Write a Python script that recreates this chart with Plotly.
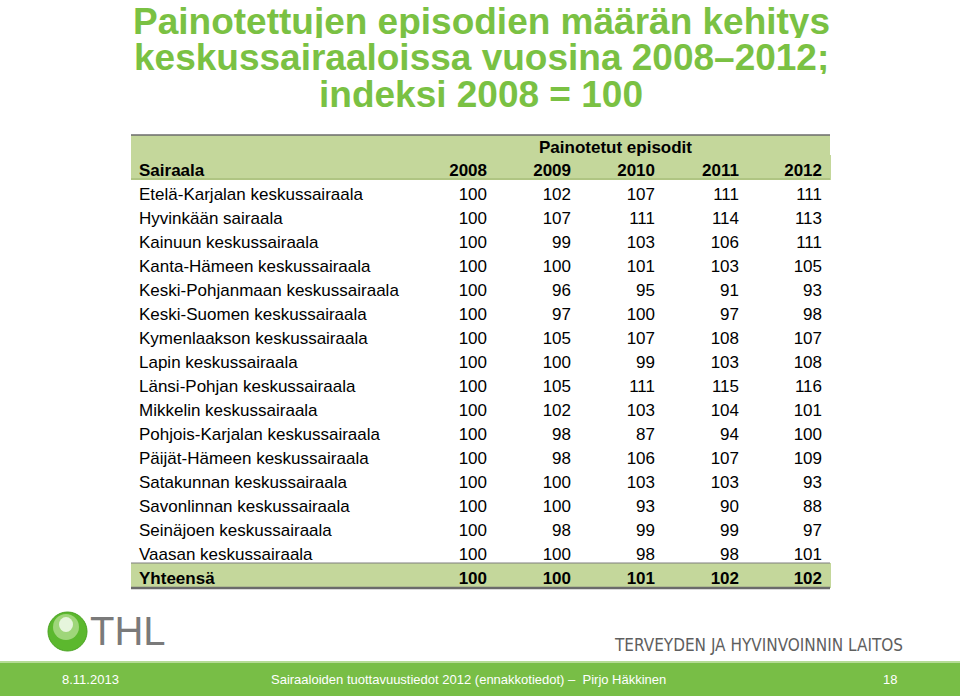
import plotly.graph_objects as go

W, H = 960, 696

hospitals = [
    "Etelä-Karjalan keskussairaala",
    "Hyvinkään sairaala",
    "Kainuun keskussairaala",
    "Kanta-Hämeen keskussairaala",
    "Keski-Pohjanmaan keskussairaala",
    "Keski-Suomen keskussairaala",
    "Kymenlaakson keskussairaala",
    "Lapin keskussairaala",
    "Länsi-Pohjan keskussairaala",
    "Mikkelin keskussairaala",
    "Pohjois-Karjalan keskussairaala",
    "Päijät-Hämeen keskussairaala",
    "Satakunnan keskussairaala",
    "Savonlinnan keskussairaala",
    "Seinäjoen keskussairaala",
    "Vaasan keskussairaala",
]
years = ["2008", "2009", "2010", "2011", "2012"]
v2008 = [100] * 16
v2009 = [102, 107, 99, 100, 96, 97, 105, 100, 105, 102, 98, 98, 100, 100, 98, 100]
v2010 = [107, 111, 103, 101, 95, 100, 107, 99, 111, 103, 87, 106, 103, 93, 99, 98]
v2011 = [111, 114, 106, 103, 91, 97, 108, 103, 115, 104, 94, 107, 103, 90, 99, 98]
v2012 = [111, 113, 111, 105, 93, 98, 107, 108, 116, 101, 100, 109, 93, 88, 97, 101]
total_label = "Yhteensä"
total = [100, 100, 101, 102, 102]
group_label = "Painotetut episodit"

GREEN_FILL = "#c4d79b"
TITLE_GREEN = "#7ac143"
BAR_GREEN = "#78be46"
FONT = "Liberation Sans, Arial"

# table geometry in pixels
tx0 = 131
col_w = [280, 84, 84, 84, 84, 83]
tx1 = tx0 + sum(col_w)
band_top = 135      # top of the "Painotetut episodit" band
ty_top = 155        # top of the table header row
row_h = 24
body_bot = ty_top + row_h + len(hospitals) * row_h
ty_bot = body_bot + row_h + 1
ALIGN = ["left"] + ["right"] * 5


def py(p):
    # pixel row -> paper y
    return 1 - p / H


# non-breaking spaces keep plotly from wrapping the longer names
names = [h.replace(" ", "\u00a0") for h in hospitals]
cols = [names] + [[str(v) for v in s] for s in [v2008, v2009, v2010, v2011, v2012]]

fig = go.Figure()
# main table: "Sairaala" header row + hospital rows
fig.add_trace(go.Table(
    domain=dict(x=[tx0 / W, tx1 / W], y=[py(body_bot + 1), py(ty_top)]),
    columnwidth=col_w,
    header=dict(
        values=["Sairaala"] + years,
        align=ALIGN,
        fill_color=GREEN_FILL,
        line_color=GREEN_FILL,
        font=dict(family=FONT, size=17, color="black", weight="bold"),
        height=row_h,
    ),
    cells=dict(
        values=cols,
        align=ALIGN,
        fill_color="white",
        line_color="white",
        font=dict(family=FONT, size=17, color="black"),
        height=row_h,
    ),
))
# total row as its own one-row table
fig.add_trace(go.Table(
    domain=dict(x=[tx0 / W, tx1 / W], y=[py(ty_bot + 1), py(body_bot)]),
    columnwidth=col_w,
    header=dict(
        values=[total_label] + [str(t) for t in total],
        align=ALIGN,
        fill_color=GREEN_FILL,
        line_color=GREEN_FILL,
        font=dict(family=FONT, size=17, color="black", weight="bold"),
        height=row_h + 1,
    ),
    cells=dict(values=[], height=row_h),
))

shapes = [
    # green band above the header row
    dict(type="rect", x0=tx0 / W, x1=tx1 / W, y0=py(ty_top + 1), y1=py(band_top),
         fillcolor=GREEN_FILL, line=dict(width=0)),
    # table rules
    dict(type="line", x0=tx0 / W, x1=tx1 / W, y0=py(band_top), y1=py(band_top),
         line=dict(color="#6b6b6b", width=1.5)),
    dict(type="line", x0=tx0 / W, x1=tx1 / W, y0=py(ty_top + row_h), y1=py(ty_top + row_h),
         line=dict(color="#9bb36a", width=1)),
    dict(type="line", x0=tx0 / W, x1=tx1 / W, y0=py(body_bot), y1=py(body_bot),
         line=dict(color="#7f7f7f", width=1)),
    dict(type="line", x0=tx0 / W, x1=tx1 / W, y0=py(ty_bot), y1=py(ty_bot),
         line=dict(color="#6b6b6b", width=2.5)),
    # footer bar
    dict(type="rect", x0=0, x1=1, y0=0, y1=py(663),
         fillcolor=BAR_GREEN, line=dict(width=0), layer="below"),
    dict(type="line", x0=0, x1=1, y0=py(662), y1=py(662),
         line=dict(color="#b5dc95", width=2)),
    # THL logo sphere
    dict(type="circle", x0=48 / W, x1=87 / W, y0=py(651), y1=py(612),
         fillcolor="#5cb82e", line=dict(color="#4aa322", width=1)),
    dict(type="circle", x0=53 / W, x1=79 / W, y0=py(640), y1=py(614),
         fillcolor="#9fd67a", line=dict(width=0)),
    dict(type="circle", x0=59 / W, x1=73 / W, y0=py(632), y1=py(617),
         fillcolor="#e6f5dc", line=dict(width=0)),
]
for s in shapes:
    s.update(xref="paper", yref="paper")

title_lines = [
    ("Painotettujen episodien määrän kehitys", 21),
    ("keskussairaaloissa vuosina 2008–2012;", 57),
    ("indeksi 2008 = 100", 94),
]
annotations = [
    dict(text=t, x=481 / W, y=py(yc), xanchor="center", yanchor="middle", height=34,
         font=dict(family=FONT, size=37, color=TITLE_GREEN, weight="bold"))
    for t, yc in title_lines
]
annotations += [
    dict(text=group_label, x=615 / W, y=py(147), xanchor="center", yanchor="middle",
         font=dict(family=FONT, size=17, color="black", weight="bold")),
    dict(text="THL", x=88 / W, y=py(631), xanchor="left", yanchor="middle",
         font=dict(family=FONT, size=40, color="#7a7a7a")),
    dict(text="TERVEYDEN JA HYVINVOINNIN LAITOS", x=905 / W, y=py(645), xanchor="right", yanchor="middle",
         font=dict(family="Liberation Sans Narrow, DejaVu Sans Condensed", size=17, color="#5f5f5f")),
    dict(text="8.11.2013", x=60 / W, y=py(679), xanchor="left", yanchor="middle",
         font=dict(family=FONT, size=13, color="white")),
    dict(text="Sairaaloiden tuottavuustiedot 2012 (ennakkotiedot) –  Pirjo Häkkinen", x=468 / W, y=py(679),
         xanchor="center", yanchor="middle",
         font=dict(family=FONT, size=13, color="white")),
    dict(text="18", x=899 / W, y=py(679), xanchor="right", yanchor="middle",
         font=dict(family=FONT, size=13, color="white")),
]
for a in annotations:
    a.update(xref="paper", yref="paper", showarrow=False)

fig.update_layout(
    width=W, height=H,
    margin=dict(l=0, r=0, t=0, b=0),
    paper_bgcolor="white",
    plot_bgcolor="white",
    shapes=shapes,
    annotations=annotations,
)

# drop the browser's default 8px body margin so the figure sits at the page corner
fig.write_html(
    "out.html",
    config={"displayModeBar": False},
    post_script="document.body.style.margin='0';document.body.style.overflow='hidden';",
)
